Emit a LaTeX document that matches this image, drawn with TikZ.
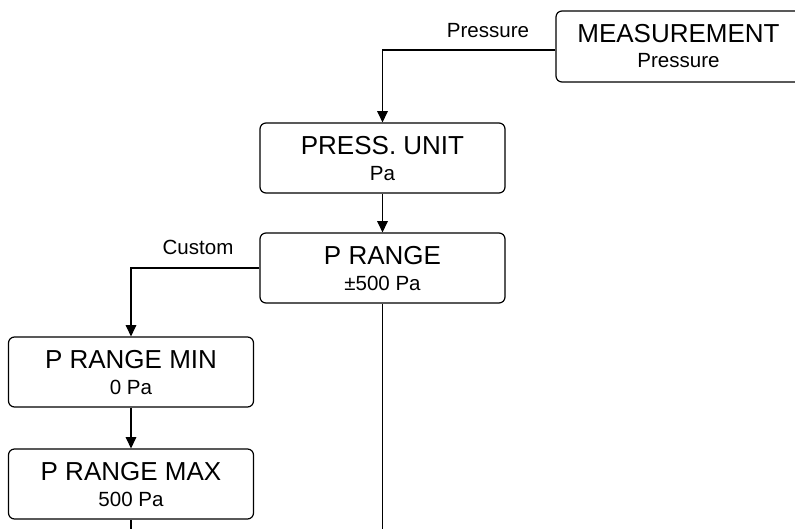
\documentclass[tikz,border=0pt]{standalone}
\usepackage{fontspec}
\setmainfont{Liberation Sans}
\usetikzlibrary{arrows.meta,calc}
\newcommand{\bigf}{\fontsize{19.5}{23}\selectfont}
\newcommand{\smallf}{\fontsize{15.4}{18}\selectfont}
\tikzset{
  menubox/.style={draw, line width=0.9pt, rounded corners=4.5pt, minimum width=183.75pt, minimum height=52.5pt, inner sep=0pt, fill=white},
  titletext/.style={anchor=base, inner sep=0pt, font=\bigf},
  subtext/.style={anchor=base, inner sep=0pt, font=\smallf},
  lbl/.style={anchor=base, inner sep=0pt, font=\smallf},
  conn/.style={line width=0.9pt},
  arr/.style={conn, -{Triangle[width=8pt,length=8.5pt]}}
}
\begin{document}
\begin{tikzpicture}[x=0.75pt,y=-0.75pt]
\useasboundingbox (0,0) rectangle (795,529);
% boxes
\node[menubox, minimum height=53.25pt] (meas) at (678.5,46.5) {};
\node[menubox] (press) at (382.5,158) {};
\node[menubox] (prange) at (382.5,268) {};
\node[menubox] (pmin) at (131,372) {};
\node[menubox] (pmax) at (131,484) {};
% texts
\node[titletext] (measT) at ($(meas.north)+(0,32)$) {MEASUREMENT};
\node[subtext] (measS) at ($(meas.north)+(0,57)$) {Pressure};
\node[titletext] (pressT) at ($(press.north)+(0,32)$) {PRESS. UNIT};
\node[subtext] (pressS) at ($(press.north)+(0,58)$) {Pa};
\node[titletext] (prangeT) at ($(prange.north)+(0,32)$) {P RANGE};
\node[subtext] (prangeS) at ($(prange.north)+(0,58)$) {±500 Pa};
\node[titletext] (pminT) at ($(pmin.north)+(0,32)$) {P RANGE MIN};
\node[subtext] (pminS) at ($(pmin.north)+(0,58)$) {0 Pa};
\node[titletext] (pmaxT) at ($(pmax.north)+(0,32)$) {P RANGE MAX};
\node[subtext] (pmaxS) at ($(pmax.north)+(0,58)$) {500 Pa};
% labels
\node[lbl] (lpress) at (488,37) {Pressure};
\node[lbl] (lcustom) at (198,254) {Custom};
% connectors
\coordinate (mout) at ($(meas.west)+(0,3.5)$);
\coordinate (endA) at (131,529);
\coordinate (endB) at (382.5,529);
\draw[arr] (mout) -| (press.north);
\draw[arr] (press.south) -- (prange.north);
\draw[arr] (prange.west) -| (pmin.north);
\draw[arr] (pmin.south) -- (pmax.north);
\draw[conn] (pmax.south) -- (endA);
\draw[conn] (prange.south) -- (endB);
\end{tikzpicture}
\end{document}
